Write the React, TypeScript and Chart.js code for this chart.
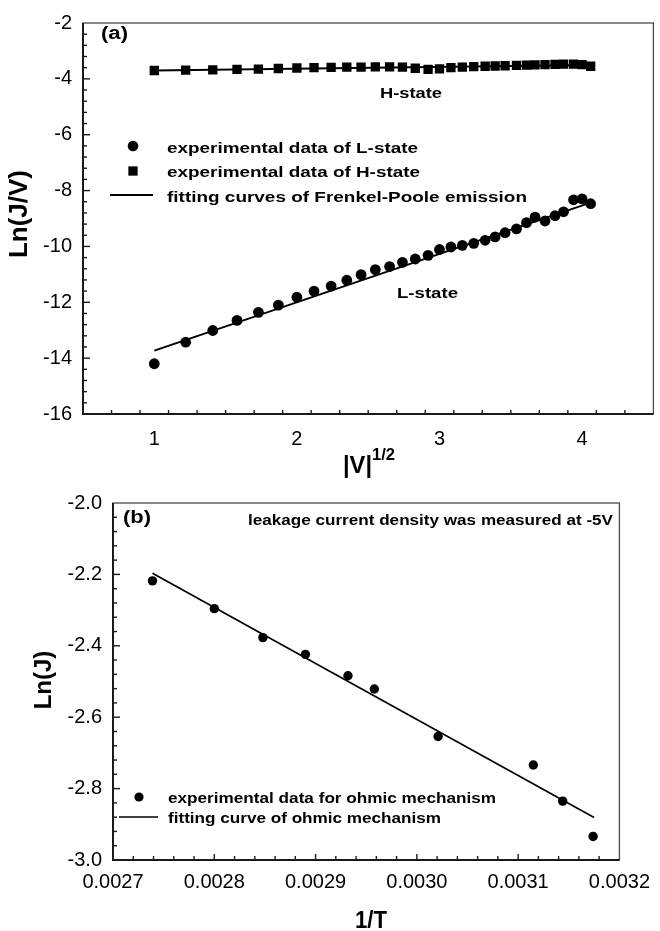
import React, { useEffect, useRef } from 'react';
import { Chart, registerables } from 'chart.js';

Chart.register(...registerables);

const FONT = '"Liberation Sans", Arial, Helvetica, sans-serif';

// ---------- Panel (a) data ----------
const sqrtV = [1.0, 1.22, 1.41, 1.58, 1.73, 1.87, 2.0, 2.12, 2.24, 2.35, 2.45, 2.55, 2.65, 2.74, 2.83, 2.92, 3.0, 3.08, 3.16, 3.24, 3.32, 3.39, 3.46, 3.54, 3.61, 3.67, 3.74, 3.81, 3.87, 3.94, 4.0, 4.06];
const lnJV_L = [-14.2, -13.43, -13.01, -12.65, -12.36, -12.1, -11.82, -11.6, -11.42, -11.21, -11.01, -10.83, -10.72, -10.57, -10.45, -10.32, -10.11, -10.02, -9.96, -9.89, -9.78, -9.66, -9.51, -9.37, -9.15, -8.95, -9.09, -8.9, -8.76, -8.33, -8.3, -8.47];
const lnJV_H = [-3.7, -3.69, -3.68, -3.66, -3.65, -3.63, -3.61, -3.6, -3.59, -3.58, -3.58, -3.57, -3.57, -3.58, -3.62, -3.66, -3.64, -3.6, -3.58, -3.56, -3.55, -3.54, -3.53, -3.52, -3.51, -3.5, -3.49, -3.48, -3.47, -3.47, -3.49, -3.55];
const fitL_x = [1.0, 4.05];
const fitL_y = [-13.73, -8.45];
const fitH_x = [1.0, 4.06];
const fitH_y = [-3.7, -3.5];
const xTicksA = [1, 2, 3, 4];
const yTicksA = [-16, -14, -12, -10, -8, -6, -4, -2];

// ---------- Panel (b) data ----------
const invT = [0.002739, 0.0028, 0.002848, 0.00289, 0.002932, 0.002958, 0.003021, 0.003115, 0.003144, 0.003174];
const lnJ = [-2.218, -2.296, -2.377, -2.424, -2.484, -2.521, -2.654, -2.734, -2.835, -2.934];
const fitB_x = [0.002739, 0.003175];
const fitB_y = [-2.197, -2.881];
const xTicksB = [0.0027, 0.0028, 0.0029, 0.003, 0.0031, 0.0032];
const yTicksB = [-3.0, -2.8, -2.6, -2.4, -2.2, -2.0];

const pts = (xs: number[], ys: number[]) => xs.map((x, i) => ({ x, y: ys[i] }));

function stretchText(
  ctx: CanvasRenderingContext2D,
  text: string,
  x: number,
  y: number,
  font: string,
  targetW: number | null,
  align: CanvasTextAlign = 'left',
  rotate = false
) {
  ctx.save();
  ctx.font = font;
  const w = ctx.measureText(text).width;
  const sx = targetW ? targetW / w : 1;
  ctx.translate(x, y);
  if (rotate) ctx.rotate(-Math.PI / 2);
  ctx.scale(sx, 1);
  ctx.textAlign = align;
  ctx.textBaseline = rotate ? 'middle' : 'alphabetic';
  ctx.fillStyle = '#000';
  ctx.fillText(text, 0, 0);
  ctx.restore();
}

type AxisDecor = { min: number; max: number; step: number; majors: number[]; majorLen: number; minorLen: number };

function makeDecor(xd: AxisDecor, yd: AxisDecor, extra: (ctx: CanvasRenderingContext2D) => void) {
  return {
    id: 'decor',
    afterDraw(chart: any) {
      const ctx: CanvasRenderingContext2D = chart.ctx;
      const a = chart.chartArea;
      const xs = chart.scales.x;
      const ys = chart.scales.y;
      ctx.save();
      ctx.strokeStyle = '#4a4a4a';
      ctx.lineWidth = 1.3;
      ctx.strokeRect(a.left, a.top, a.right - a.left, a.bottom - a.top);
      ctx.strokeStyle = '#1a1a1a';
      ctx.lineWidth = 2;
      ctx.beginPath();
      ctx.moveTo(a.left, a.top);
      ctx.lineTo(a.left, a.bottom);
      ctx.lineTo(a.right, a.bottom);
      ctx.stroke();
      ctx.lineWidth = 1.4;
      const isMajor = (v: number, majors: number[], step: number) => majors.some((m) => Math.abs(m - v) < step * 0.01);
      const nx = Math.round((xd.max - xd.min) / xd.step);
      for (let i = 1; i < nx; i++) {
        const v = xd.min + i * xd.step;
        const px = xs.getPixelForValue(v);
        const len = isMajor(v, xd.majors, xd.step) ? xd.majorLen : xd.minorLen;
        ctx.beginPath();
        ctx.moveTo(px, a.bottom);
        ctx.lineTo(px, a.bottom - len);
        ctx.stroke();
      }
      const ny = Math.round((yd.max - yd.min) / yd.step);
      for (let i = 1; i < ny; i++) {
        const v = yd.min + i * yd.step;
        const py = ys.getPixelForValue(v);
        const len = isMajor(v, yd.majors, yd.step) ? yd.majorLen : yd.minorLen;
        ctx.beginPath();
        ctx.moveTo(a.left, py);
        ctx.lineTo(a.left + len, py);
        ctx.stroke();
      }
      ctx.restore();
      extra(ctx);
    },
  };
}

function drawCircle(ctx: CanvasRenderingContext2D, x: number, y: number, r: number) {
  ctx.beginPath();
  ctx.arc(x, y, r, 0, Math.PI * 2);
  ctx.fillStyle = '#000';
  ctx.fill();
}

function drawSquare(ctx: CanvasRenderingContext2D, x: number, y: number, s: number) {
  ctx.fillStyle = '#000';
  ctx.fillRect(x - s / 2, y - s / 2, s, s);
}

function drawLine(ctx: CanvasRenderingContext2D, x1: number, x2: number, y: number, w: number) {
  ctx.beginPath();
  ctx.moveTo(x1, y);
  ctx.lineTo(x2, y);
  ctx.strokeStyle = '#000';
  ctx.lineWidth = w;
  ctx.stroke();
}

const bold = (s: number) => `bold ${s}px ${FONT}`;

function configA(): any {
  const decor = makeDecor(
    { min: 0.5, max: 4.5, step: 0.2, majors: xTicksA, majorLen: 6, minorLen: 4 },
    { min: -16, max: -2, step: 0.4, majors: yTicksA, majorLen: 7, minorLen: 4 },
    (ctx) => {
      stretchText(ctx, '(a)', 101, 39, bold(18), 27);
      stretchText(ctx, 'H-state', 380, 98, bold(15.5), 62);
      stretchText(ctx, 'L-state', 397, 298, bold(15.5), 61);
      drawCircle(ctx, 133, 146, 5.3);
      drawSquare(ctx, 133, 171, 9.3);
      drawLine(ctx, 110, 153, 195, 2);
      stretchText(ctx, 'experimental data of L-state', 167, 153, bold(15.5), 251);
      stretchText(ctx, 'experimental data of H-state', 167, 177, bold(15.5), 253);
      stretchText(ctx, 'fitting curves of Frenkel-Poole emission', 167, 202, bold(15.5), 360);
      stretchText(ctx, 'Ln(J/V)', 20, 214, bold(25), 88, 'center', true);
      stretchText(ctx, '|V|', 343, 473, bold(24), 29);
      stretchText(ctx, '1/2', 372, 460, bold(16), 23);
    }
  );
  return {
    type: 'scatter',
    data: {
      datasets: [
        {
          label: 'fitting curves of Frenkel-Poole emission',
          data: pts(fitL_x, fitL_y),
          showLine: true,
          pointRadius: 0,
          borderColor: '#000',
          borderWidth: 2,
        },
        {
          label: 'fit H',
          data: pts(fitH_x, fitH_y),
          showLine: true,
          pointRadius: 0,
          borderColor: '#000',
          borderWidth: 2,
        },
        {
          label: 'experimental data of L-state',
          data: pts(sqrtV, lnJV_L),
          pointStyle: 'circle',
          pointRadius: 5.4,
          pointBackgroundColor: '#000',
          pointBorderWidth: 0,
          showLine: false,
        },
        {
          label: 'experimental data of H-state',
          data: pts(sqrtV, lnJV_H),
          pointStyle: 'rect',
          pointRadius: 6.6,
          pointBackgroundColor: '#000',
          pointBorderWidth: 0,
          showLine: false,
        },
      ],
    },
    options: {
      responsive: false,
      animation: false,
      layout: { padding: { left: 0, right: 4, top: 13, bottom: 0 } },
      plugins: { legend: { display: false }, tooltip: { enabled: false } },
      scales: {
        x: {
          type: 'linear',
          min: 0.5,
          max: 4.5,
          afterBuildTicks: (s: any) => {
            s.ticks = xTicksA.map((v) => ({ value: v }));
          },
          afterFit: (s: any) => {
            s.height = 66;
          },
          grid: { display: false, drawTicks: false },
          border: { display: false },
          ticks: { font: { family: FONT, size: 20 }, color: '#000', padding: 13, callback: (v: any) => String(v) },
        },
        y: {
          type: 'linear',
          min: -16,
          max: -2,
          afterBuildTicks: (s: any) => {
            s.ticks = yTicksA.map((v) => ({ value: v }));
          },
          afterFit: (s: any) => {
            s.width = 83;
          },
          grid: { display: false, drawTicks: false },
          border: { display: false },
          ticks: { font: { family: FONT, size: 20 }, color: '#000', padding: 11, callback: (v: any) => String(v) },
        },
      },
    },
    plugins: [decor],
  };
}

function configB(): any {
  const decor = makeDecor(
    { min: 0.0027, max: 0.0032, step: 0.00002, majors: xTicksB, majorLen: 6, minorLen: 4 },
    { min: -3.0, max: -2.0, step: 0.04, majors: yTicksB, majorLen: 7, minorLen: 4 },
    (ctx) => {
      stretchText(ctx, '(b)', 123, 43, bold(18), 28);
      stretchText(ctx, 'leakage current density was measured at -5V', 248, 45, bold(15), 365);
      drawCircle(ctx, 139, 317, 4.6);
      drawLine(ctx, 119, 158, 337, 1.7);
      stretchText(ctx, 'experimental data for ohmic mechanism', 168, 322.5, bold(15), 328);
      stretchText(ctx, 'fitting curve of ohmic mechanism', 168, 343, bold(15), 273);
      stretchText(ctx, 'Ln(J)', 44, 200, bold(24), null, 'center', true);
      stretchText(ctx, '1/T', 371, 448, bold(23), 32, 'center');
    }
  );
  return {
    type: 'scatter',
    data: {
      datasets: [
        {
          label: 'fitting curve of ohmic mechanism',
          data: pts(fitB_x, fitB_y),
          showLine: true,
          pointRadius: 0,
          borderColor: '#000',
          borderWidth: 1.7,
        },
        {
          label: 'experimental data for ohmic mechanism',
          data: pts(invT, lnJ),
          pointStyle: 'circle',
          pointRadius: 4.7,
          pointBackgroundColor: '#000',
          pointBorderWidth: 0,
          showLine: false,
        },
      ],
    },
    options: {
      responsive: false,
      animation: false,
      layout: { padding: { left: 0, right: 32, top: 20, bottom: 0 } },
      plugins: { legend: { display: false }, tooltip: { enabled: false } },
      scales: {
        x: {
          type: 'linear',
          min: 0.0027,
          max: 0.0032,
          afterBuildTicks: (s: any) => {
            s.ticks = xTicksB.map((v) => ({ value: v }));
          },
          afterFit: (s: any) => {
            s.height = 71;
          },
          grid: { display: false, drawTicks: false },
          border: { display: false },
          ticks: { font: { family: FONT, size: 20 }, color: '#000', padding: 10, callback: (v: any) => Number(v).toFixed(4) },
        },
        y: {
          type: 'linear',
          min: -3.0,
          max: -2.0,
          afterBuildTicks: (s: any) => {
            s.ticks = yTicksB.map((v) => ({ value: v }));
          },
          afterFit: (s: any) => {
            s.width = 113;
          },
          grid: { display: false, drawTicks: false },
          border: { display: false },
          ticks: { font: { family: FONT, size: 20 }, color: '#000', padding: 11, callback: (v: any) => Number(v).toFixed(1) },
        },
      },
    },
    plugins: [decor],
  };
}

function ChartCanvas({ make, width, height, top }: { make: () => any; width: number; height: number; top: number }) {
  const ref = useRef<HTMLCanvasElement | null>(null);
  useEffect(() => {
    if (!ref.current) return;
    const chart = new Chart(ref.current, make());
    return () => chart.destroy();
  }, [make]);
  return (
    <canvas
      ref={ref}
      width={width}
      height={height}
      style={{ position: 'absolute', left: 0, top, width, height, display: 'block' }}
    />
  );
}

export default function App() {
  return (
    <div style={{ position: 'absolute', left: 0, top: 0, width: 660, height: 931, background: '#fff', overflow: 'hidden' }}>
      <ChartCanvas make={configA} width={660} height={480} top={0} />
      <ChartCanvas make={configB} width={660} height={451} top={480} />
    </div>
  );
}
